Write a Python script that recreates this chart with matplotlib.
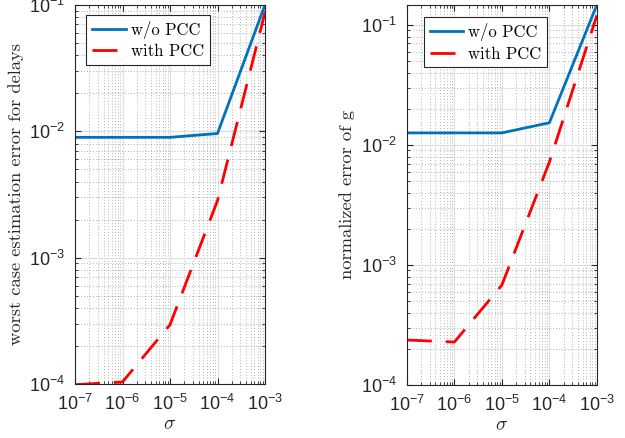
import numpy as np
import matplotlib
matplotlib.use('Agg')
import matplotlib.pyplot as plt
from matplotlib.ticker import LogLocator, NullFormatter

plt.rcParams['mathtext.fontset'] = 'cm'
plt.rcParams['font.family'] = ['Liberation Sans', 'DejaVu Sans']

sigma = [1e-7, 1e-6, 1e-5, 1e-4, 1e-3]

# left panel: worst case estimation error for delays
delay_wo = [0.00895, 0.00895, 0.00895, 0.0096, 0.1]
delay_with = [0.99e-4, 1.04e-4, 2.95e-4, 2.83e-3, 0.087]

# right panel: normalized error of g
g_wo = [0.0126, 0.0126, 0.0126, 0.0153, 0.147]
g_with = [2.37e-4, 2.28e-4, 6.8e-4, 7.2e-3, 0.12]

blue = '#0072BD'
red = '#FF0000'
serif = 'cmr10'

fig = plt.figure(figsize=(6.25, 4.38), dpi=100)
ax1 = fig.add_axes([0.12, 0.123, 0.304, 0.866])
ax2 = fig.add_axes([0.651, 0.121, 0.304, 0.868])


def style(ax, ylab, ytop, leg_anchor):
    ax.set_xscale('log')
    ax.set_yscale('log')
    ax.set_xlim(1e-7, 1e-3)
    ax.set_ylim(1e-4, ytop)
    ax.set_xticks([1e-7, 1e-6, 1e-5, 1e-4, 1e-3])
    ax.set_yticks([1e-4, 1e-3, 1e-2, 1e-1])
    for a in (ax.xaxis, ax.yaxis):
        a.set_minor_locator(LogLocator(base=10, subs=np.arange(2, 10), numticks=100))
        a.set_minor_formatter(NullFormatter())
    ax.grid(True, which='major', color='#dedede', lw=0.8)
    ax.grid(True, which='minor', color='#9a9a9a', lw=0.6, ls=(0, (1, 2.5)))
    ax.set_axisbelow(True)
    ax.tick_params(which='both', direction='in', top=True, right=True,
                   labelsize=13, colors='#262626')
    ax.tick_params(which='major', length=4, pad=7)
    ax.tick_params(which='minor', length=2)
    for s in ax.spines.values():
        s.set_color('#262626')
        s.set_linewidth(0.8)
    ax.set_xlabel(r'$\sigma$', fontsize=14, color='#262626', labelpad=2)
    ax.set_ylabel(ylab, fontsize=13.3, family=serif, color='#262626')
    leg = ax.legend(loc='upper left', bbox_to_anchor=leg_anchor,
                    prop={'family': serif, 'size': 12},
                    fancybox=False, edgecolor='#262626', framealpha=1,
                    borderaxespad=0, borderpad=0.35, labelspacing=0.3,
                    handlelength=2.0, handletextpad=0.3)
    leg.get_frame().set_linewidth(0.8)


ax1.plot(sigma, delay_wo, color=blue, lw=2, label='w/o PCC')
ax1.plot(sigma, delay_with, color=red, lw=2, ls=(0, (9, 5)), label='with PCC')
style(ax1, 'worst case estimation error for delays', 0.1, (0.06, 0.974))

ax2.plot(sigma, g_wo, color=blue, lw=2, label='w/o PCC')
ax2.plot(sigma, g_with, color=red, lw=2, ls=(0, (9, 5)), label='with PCC')
style(ax2, 'normalized error of g', 0.147, (0.09, 0.967))

fig.savefig('out.png', dpi=100)
